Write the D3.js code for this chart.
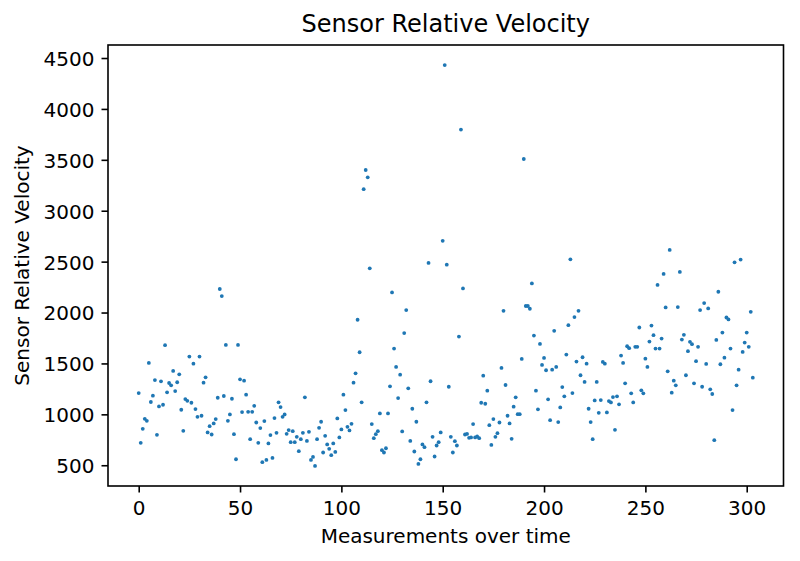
<!DOCTYPE html>
<html>
  <head>
    <meta charset="utf-8">
    <script src="https://d3js.org/d3.v7.min.js"></script>
    <title>Sensor Relative Velocity</title>
    <style>
      body {
        margin: 0px;
        background: #fff;
      }
      text {
        font-family: "DejaVu Sans", sans-serif;
        fill: #000;
      }
      .domain {
        display: none;
      }
      .tick line {
        stroke: #000;
        stroke-width: 1.6;
      }
      .tick text {
        font-size: 20px;
        font-family: "DejaVu Sans", sans-serif;
      }
      .axis-label {
        font-size: 20px;
      }
      .title {
        font-size: 24px;
      }
    </style>
  </head>
  <body>
    <svg width="800" height="561"></svg>
    <script>

      const title = 'Sensor Relative Velocity';
      const xLabel = 'Measurements over time';
      const yLabel = 'Sensor Relative Velocity';
      const xTicks = [0, 50, 100, 150, 200, 250, 300];
      const yTicks = [500, 1000, 1500, 2000, 2500, 3000, 3500, 4000, 4500];

      // one reading per measurement, index = position in the array
      const velocity = [
        1209, 720, 858, 956, 936, 1505, 1121, 1183, 1337, 799,
        1078, 1324, 1094, 1679, 1216, 1308, 1285, 1426, 1229, 1315,
        1393, 1045, 838, 1150, 1133, 1567, 1114, 1498, 1052, 976,
        1567, 986, 1311, 1364, 822, 884, 802, 911, 953, 1163,
        2231, 2162, 1180, 1682, 936, 999, 1153, 805, 559, 1682,
        1344, 1022, 1331, 1193, 1025, 756, 1025, 1084, 920, 720,
        865, 530, 934, 552, 714, 796, 572, 963, 818, 1118,
        1071, 976, 999, 809, 845, 727, 835, 727, 779, 638,
        756, 818, 1167, 739, 828, 552, 582, 493, 756, 868,
        927, 625, 789, 704, 661, 599, 714, 631, 960, 773,
        852, 1193, 1042, 877, 842, 907, 1311, 1403, 1929, 1610,
        1118, 3212, 3400, 3328, 2434, 904, 766, 805, 835, 1009,
        648, 625, 667, 1009, 1275, 2198, 1646, 1466, 1160, 1390,
        832, 1798, 2024, 1256, 739, 1055, 635, 927, 513, 559,
        704, 677, 1118, 2487, 1325, 779, 586, 694, 727, 822,
        2704, 4431, 2470, 1271, 779, 625, 736, 694, 1764, 3797,
        2237, 802, 808, 769, 773, 904, 773, 783, 766, 1114,
        1380, 1104, 1232, 894, 700, 953, 779, 815, 920, 1456,
        2017, 1288, 986, 911, 759, 1075, 1167, 1002, 1002, 1544,
        3508, 2064, 2064, 2037, 2286, 1774, 1232, 1049, 1692, 1485,
        1554, 1433, 1147, 943, 1439, 1820, 1466, 924, 1068, 1268,
        1177, 1587, 1876, 2523, 1209, 1955, 1518, 2017, 1384, 1561,
        1318, 1498, 1055, 924, 756, 1137, 1318, 1015, 1140, 1515,
        1498, 1019, 1130, 1117, 1170, 848, 1177, 1098, 1577, 1505,
        1305, 1669, 1650, 1206, 1117, 1663, 1663, 1853, 1236, 1206,
        1547, 1466, 1715, 1872, 1778, 1646, 2271, 1646, 1744, 2379,
        2050, 1423, 2615, 1213, 1331, 1285, 2054, 2399, 1734, 1781,
        1384, 1620, 1712, 1689, 1305, 1522, 1663, 2024, 1271, 2093,
        1495, 2040, 1246, 1200, 746, 1731, 2204, 1492, 1803, 1557,
        1951, 1932, 1646, 1042, 2493, 1285, 1439, 2520, 1613, 1705,
        1803, 1663, 2007, 1360
      ];

      const data = velocity.map((v, i) => ({ t: i, v: v }));

      const plot = { left: 108, right: 783.5, top: 45, bottom: 486 };
      const innerWidth = plot.right - plot.left;
      const innerHeight = plot.bottom - plot.top;

      const svg = d3.select('svg');
      const g = svg.append('g')
          .attr('transform', `translate(${plot.left},${plot.top})`);

      // matplotlib style 5% margins around the data
      const pad = (lo, hi) => [lo - (hi - lo) * 0.05, hi + (hi - lo) * 0.05];
      const xScale = d3.scaleLinear()
        .domain(pad(0, data.length - 1))
        .range([0, innerWidth]);
      const yScale = d3.scaleLinear()
        .domain(pad(d3.min(velocity), d3.max(velocity)))
        .range([innerHeight, 0]);

      const xAxis = d3.axisBottom(xScale)
        .tickValues(xTicks)
        .tickFormat(d3.format('d'))
        .tickSize(6.5)
        .tickPadding(7)
        .tickSizeOuter(0);
      const yAxis = d3.axisLeft(yScale)
        .tickValues(yTicks)
        .tickFormat(d3.format('d'))
        .tickSize(6.5)
        .tickPadding(7)
        .tickSizeOuter(0);

      const xAxisG = g.append('g')
          .attr('transform', `translate(0,${innerHeight})`)
          .call(xAxis);
      xAxisG.selectAll('.tick text')
          .attr('dy', '0.73em')
          .attr('y', 14.5);

      const yAxisG = g.append('g').call(yAxis);
      yAxisG.selectAll('.tick text')
          .attr('dy', '0.37em');

      g.selectAll('circle').data(data)
        .enter().append('circle')
          .attr('cx', d => xScale(d.t))
          .attr('cy', d => yScale(d.v))
          .attr('r', 1.9)
          .attr('fill', '#1f77b4');

      g.append('rect')
          .attr('width', innerWidth)
          .attr('height', innerHeight)
          .attr('fill', 'none')
          .attr('stroke', '#000')
          .attr('stroke-width', 1.6);

      svg.append('text')
          .attr('class', 'title')
          .attr('x', plot.left + innerWidth / 2)
          .attr('y', 32)
          .attr('text-anchor', 'middle')
          .text(title);

      svg.append('text')
          .attr('class', 'axis-label')
          .attr('x', plot.left + innerWidth / 2)
          .attr('y', 543)
          .attr('text-anchor', 'middle')
          .text(xLabel);

      svg.append('text')
          .attr('class', 'axis-label')
          .attr('transform', `translate(29,${plot.top + innerHeight / 2}) rotate(-90)`)
          .attr('text-anchor', 'middle')
          .text(yLabel);
    </script>
  </body>
</html>
